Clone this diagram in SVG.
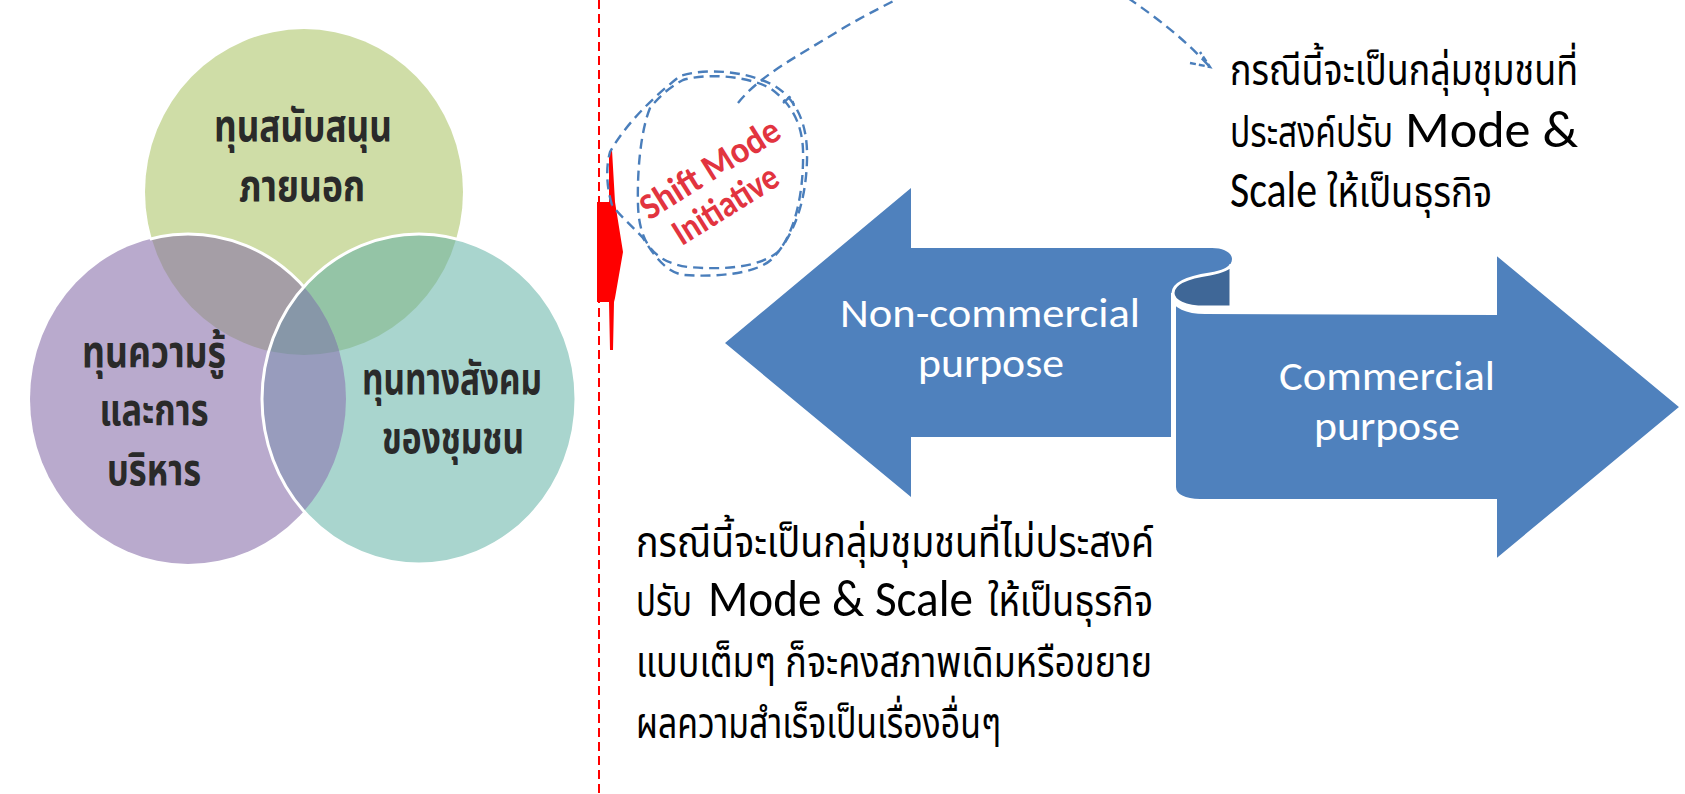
<svg xmlns="http://www.w3.org/2000/svg" width="1685" height="794" viewBox="0 0 1685 794">
<style>
.thai{font-family:'Noto Sans Thai','Noto Sans Thai UI','Noto Sans','DejaVu Sans',sans-serif;font-size:42px;fill:#000}
.lat{font-family:Carlito,Lato,'Open Sans','Liberation Sans',sans-serif;font-size:51px}
.venn{font-family:'Noto Sans Thai','Noto Sans','DejaVu Sans',sans-serif;font-weight:bold;font-size:44px;fill:#2a2a2a;text-anchor:middle}
.atxt{font-family:Carlito,Lato,'Open Sans','Liberation Sans',sans-serif;font-size:42px;fill:#fff;text-anchor:middle}
.dash{fill:none;stroke:#4a7ebb;stroke-width:2.4;stroke-dasharray:10 6}
.shift{font-family:Carlito,Lato,'Open Sans',sans-serif;font-weight:bold;font-size:37px;fill:#e2343f;text-anchor:middle;stroke:#fff;stroke-width:4;stroke-opacity:0.8;paint-order:stroke}
.blue{fill:#4f81bd}
</style>
<defs>
<clipPath id="cG"><ellipse cx="304" cy="192" rx="159" ry="163"/></clipPath>
<clipPath id="cP"><ellipse cx="188" cy="399" rx="158" ry="165"/></clipPath>
<mask id="mGnotT">
<ellipse cx="304" cy="192" rx="161" ry="165" fill="#fff"/>
<ellipse cx="419" cy="399" rx="157" ry="165" fill="#000"/>
</mask>
</defs>

<g id="venn">
<ellipse cx="304" cy="192" rx="159" ry="163" fill="#cfdda7"/>
<ellipse cx="188" cy="399" rx="158" ry="165" fill="#b9aacd"/>
<ellipse cx="419" cy="399" rx="157" ry="165" fill="#a9d5ce"/>
<g clip-path="url(#cG)"><ellipse cx="188" cy="399" rx="158" ry="165" fill="#a59ea6"/></g>
<g clip-path="url(#cG)"><ellipse cx="419" cy="399" rx="157" ry="165" fill="#94c4a6"/></g>
<g clip-path="url(#cP)"><ellipse cx="419" cy="399" rx="157" ry="165" fill="#989cbd"/></g>
<g clip-path="url(#cG)"><g clip-path="url(#cP)"><ellipse cx="419" cy="399" rx="157" ry="165" fill="#8797a8"/></g></g>
<ellipse cx="188" cy="399" rx="158" ry="165" fill="none" stroke="#fff" stroke-width="3" mask="url(#mGnotT)"/>
<ellipse cx="419" cy="399" rx="157" ry="165" fill="none" stroke="#fff" stroke-width="3"/>
</g>
<g id="venn-green-label">
<text class="venn" x="303" y="141" textLength="178" lengthAdjust="spacingAndGlyphs">ทุนสนับสนุน</text>
<text class="venn" x="302" y="201" textLength="126" lengthAdjust="spacingAndGlyphs">ภายนอก</text>
</g>
<g id="venn-purple-label">
<text class="venn" x="154" y="367" textLength="144" lengthAdjust="spacingAndGlyphs">ทุนความรู้</text>
<text class="venn" x="154" y="425" textLength="109" lengthAdjust="spacingAndGlyphs">และการ</text>
<text class="venn" x="154" y="485" textLength="94" lengthAdjust="spacingAndGlyphs">บริหาร</text>
</g>
<g id="venn-teal-label">
<text class="venn" x="452" y="394" textLength="180" lengthAdjust="spacingAndGlyphs">ทุนทางสังคม</text>
<text class="venn" x="453" y="453" textLength="142" lengthAdjust="spacingAndGlyphs">ของชุมชน</text>
</g>

<g id="divider">
<line x1="599" y1="0" x2="599" y2="794" stroke="#ff0000" stroke-width="2" stroke-dasharray="9 5"/>
<path d="M609 152 L612 150 L615 202 L623 252 L615 298 L614 302 L613 350 L610 350 L609 302 L597 302 L597 202 L609 202 Z" fill="#ff0000"/>
</g>

<g id="shift-mode">
<g transform="translate(716,186) rotate(-32)">
<text class="shift" x="4" y="-6" textLength="158" lengthAdjust="spacingAndGlyphs">Shift Mode</text>
<text class="shift" x="-2" y="33" textLength="118" lengthAdjust="spacingAndGlyphs">Initiative</text>
</g>
</g>

<g id="connectors">
<path class="dash" d="M612 205 C606 185 606 166 610 152 C625 125 652 98 680 76 C705 68 745 70 775 86 C800 102 808 130 807 160 C806 200 795 235 772 259 C755 275 712 277 684 275 C664 272 652 252 643 238 C632 226 620 216 612 205"/>
<path class="dash" d="M650 108 C641 130 637 170 638 205 C639 240 652 262 688 267 C722 270 758 268 778 252 C796 230 804 190 803 150 C802 122 790 102 770 88 C742 74 703 74 683 80 C668 88 658 98 650 108"/>
<path class="dash" d="M783 103 L791 96 L794 106"/>
<path class="dash" d="M738 103 C760 75 800 55 840 30 C860 18 880 8 905 -5 C980 -40 1080 -40 1128 -2 C1160 20 1185 40 1209 66"/>
<path d="M1190 63 L1210 67 L1200 52" fill="none" stroke="#4a7ebb" stroke-width="2.4" stroke-dasharray="6 3"/>
</g>

<g id="noncommercial-arrow">
<path class="blue" d="M725 343 L911 188 L911 248 L1212 248 C1224 248 1232 253 1232 259 C1232 266 1224 271 1210 274 C1190 277 1173 282 1173 293 L1171 293 L1171 437 L911 437 L911 497 Z"/>
<text class="atxt" x="990" y="327" textLength="300" lengthAdjust="spacingAndGlyphs">Non-commercial</text>
<text class="atxt" x="991" y="377" textLength="146" lengthAdjust="spacingAndGlyphs">purpose</text>
</g>

<g id="commercial-arrow">
<path class="blue" d="M1174 298 L1174 487 C1174 496 1185 501 1200 501 L1495 501 L1495 562 L1682 407 L1495 252 L1495 313 L1205 312 C1186 312 1174 306 1174 298 Z" stroke="#fff" stroke-width="4"/>
<path d="M1173 293 C1173 282 1190 277 1210 274 C1222 272 1231 268 1231 264 L1231 307 L1205 307 C1185 307 1173 301 1173 293 Z" fill="#3f6797" stroke="#fff" stroke-width="3"/>
<text class="atxt" x="1387" y="390" textLength="216" lengthAdjust="spacingAndGlyphs">Commercial</text>
<text class="atxt" x="1387" y="440" textLength="146" lengthAdjust="spacingAndGlyphs">purpose</text>
</g>

<g id="note-commercial">
<text class="thai" x="1230" y="85" textLength="348" lengthAdjust="spacingAndGlyphs">กรณีนี้จะเป็นกลุ่มชุมชนที่</text>
<text class="thai" y="147"><tspan x="1230" textLength="163" lengthAdjust="spacingAndGlyphs">ประสงค์ปรับ</tspan><tspan class="lat" x="1405" textLength="173" lengthAdjust="spacingAndGlyphs">Mode &amp;</tspan></text>
<text class="thai" y="207"><tspan class="lat" x="1230" textLength="87" lengthAdjust="spacingAndGlyphs">Scale</tspan><tspan x="1327" textLength="165" lengthAdjust="spacingAndGlyphs">ให้เป็นธุรกิจ</tspan></text>
</g>

<g id="note-noncommercial">
<text class="thai" x="636" y="557" textLength="518" lengthAdjust="spacingAndGlyphs">กรณีนี้จะเป็นกลุ่มชุมชนที่ไม่ประสงค์</text>
<text class="thai" y="616"><tspan x="636" textLength="56" lengthAdjust="spacingAndGlyphs">ปรับ</tspan><tspan class="lat" x="708" textLength="265" lengthAdjust="spacingAndGlyphs">Mode &amp; Scale</tspan><tspan x="988" textLength="165" lengthAdjust="spacingAndGlyphs">ให้เป็นธุรกิจ</tspan></text>
<text class="thai" x="636" y="677" textLength="516" lengthAdjust="spacingAndGlyphs">แบบเต็มๆ ก็จะคงสภาพเดิมหรือขยาย</text>
<text class="thai" x="636" y="738" textLength="365" lengthAdjust="spacingAndGlyphs">ผลความสำเร็จเป็นเรื่องอื่นๆ</text>
</g>
</svg>
